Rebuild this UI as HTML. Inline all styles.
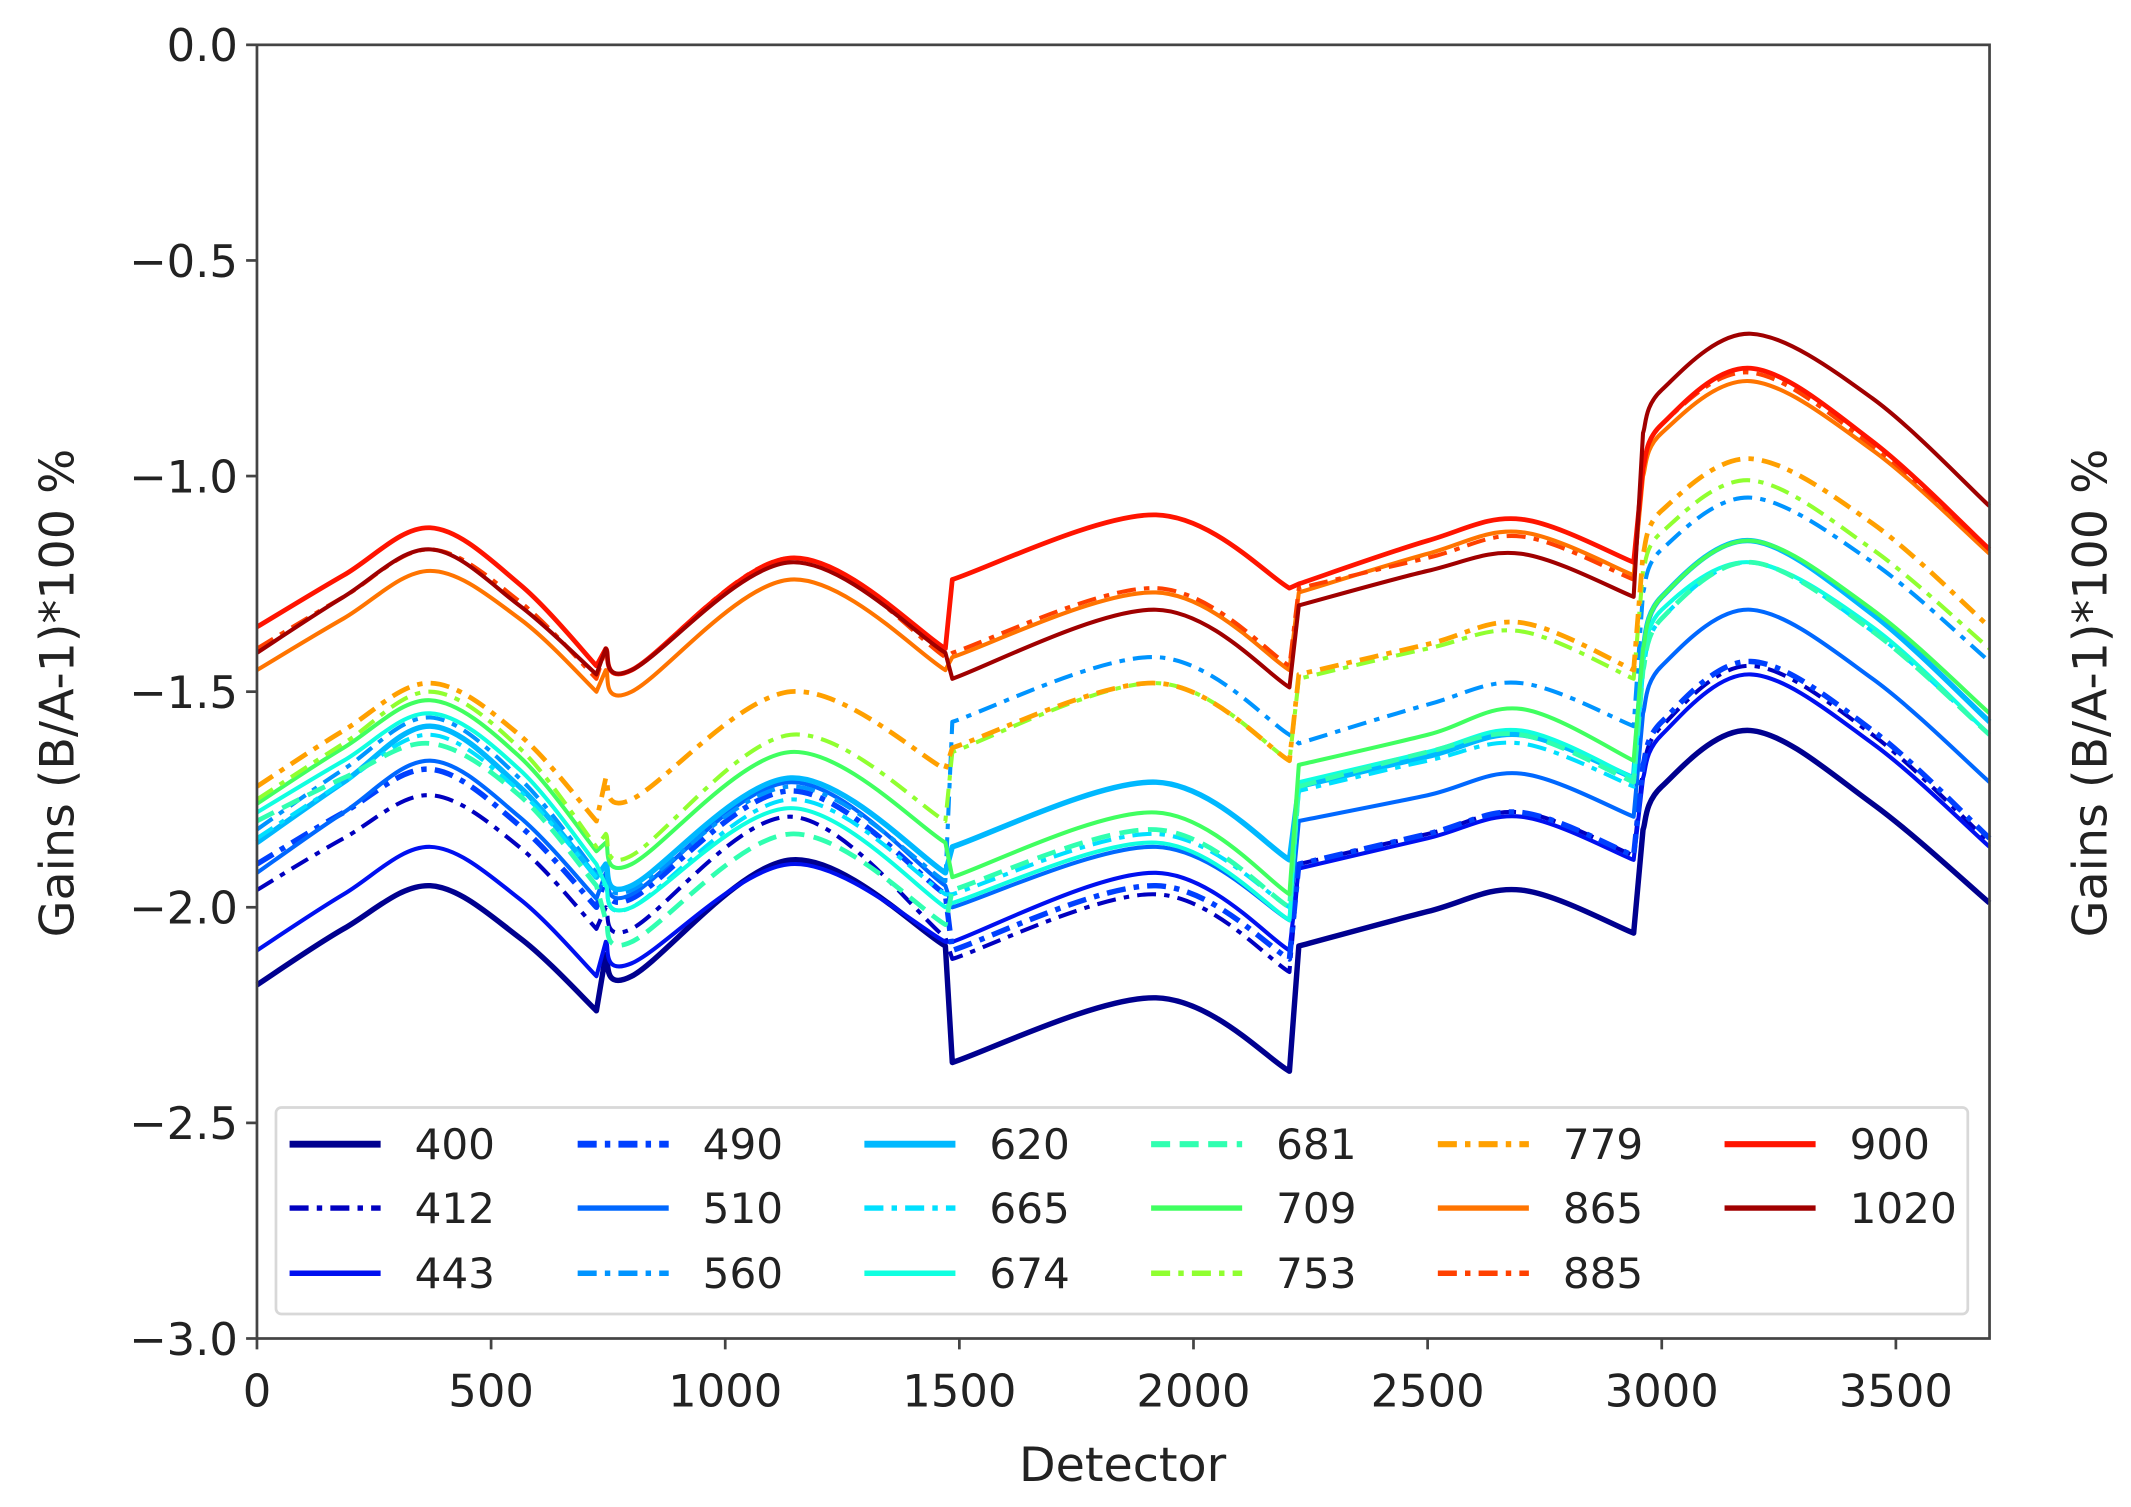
<!DOCTYPE html>
<html><head><meta charset="utf-8"><style>
html,body{margin:0;padding:0;background:#fff;}
svg{display:block;}
text{font-family:"DejaVu Sans","Liberation Sans",sans-serif;fill:#222;}
</style></head><body>
<svg id="chart" width="2131" height="1507" viewBox="0 0 1568 1109" xmlns="http://www.w3.org/2000/svg">
<rect width="1568" height="1109" fill="#fff"/>
<g id="plot"></g>
<g id="axes"></g>
<g id="legend"></g>
</svg>
<script>
const detectorX = [0,185,370,560,725, 745,800,1140,1470, 1485,1920,2205, 2225,2500,2700,2940, 2960,3000,3190,3450,3700];
const segments = [[0,5],[5,9],[9,12],[12,16],[16,21]];
const bandNames = ["400","412","443","490","510","560","620","665","674","681","709","753","779","865","885","900","1020"];
const s400 = [-2.18,-2.05,-1.95,-2.07,-2.24, -2.11,-2.16,-1.89,-2.09, -2.36,-2.21,-2.38, -2.09,-2.01,-1.96,-2.06, -1.82,-1.72,-1.59,-1.76,-1.99];
const s412 = [-1.96,-1.84,-1.74,-1.86,-2.05, -2.00,-2.05,-1.79,-2.07, -2.12,-1.97,-2.15, -1.90,-1.83,-1.78,-1.88, -1.68,-1.58,-1.44,-1.60,-1.85];
const s443 = [-2.10,-1.97,-1.86,-1.98,-2.16, -2.08,-2.13,-1.90,-2.08, -2.08,-1.92,-2.10, -1.91,-1.84,-1.79,-1.89, -1.70,-1.60,-1.46,-1.62,-1.86];
const s490 = [-1.90,-1.78,-1.68,-1.81,-2.00, -1.93,-1.98,-1.73,-1.97, -2.10,-1.95,-2.12, -1.90,-1.83,-1.78,-1.88, -1.67,-1.57,-1.43,-1.59,-1.84];
const s510 = [-1.92,-1.78,-1.66,-1.79,-1.98, -1.92,-1.97,-1.71,-1.95, -2.00,-1.86,-2.03, -1.80,-1.74,-1.69,-1.79, -1.55,-1.44,-1.31,-1.47,-1.71];
const s560 = [-1.82,-1.68,-1.56,-1.70,-1.92, -1.91,-1.96,-1.72,-1.94, -1.57,-1.42,-1.60, -1.62,-1.53,-1.48,-1.58, -1.27,-1.17,-1.05,-1.20,-1.43];
const s620 = [-1.85,-1.71,-1.58,-1.72,-1.93, -1.90,-1.95,-1.70,-1.92, -1.86,-1.71,-1.89, -1.72,-1.65,-1.60,-1.70, -1.40,-1.28,-1.15,-1.32,-1.57];
const s665 = [-1.84,-1.71,-1.60,-1.73,-1.93, -1.95,-2.00,-1.75,-1.97, -1.97,-1.83,-2.00, -1.73,-1.66,-1.62,-1.72, -1.45,-1.33,-1.20,-1.36,-1.60];
const s674 = [-1.78,-1.66,-1.55,-1.68,-1.90, -1.95,-2.00,-1.77,-2.00, -1.99,-1.85,-2.03, -1.71,-1.64,-1.59,-1.70, -1.43,-1.31,-1.20,-1.35,-1.60];
const s681 = [-1.80,-1.70,-1.62,-1.74,-1.95, -2.03,-2.08,-1.83,-2.04, -1.96,-1.82,-2.00, -1.72,-1.64,-1.60,-1.71, -1.45,-1.33,-1.20,-1.36,-1.60];
const s709 = [-1.76,-1.63,-1.52,-1.65,-1.87, -1.85,-1.90,-1.64,-1.85, -1.93,-1.78,-1.97, -1.67,-1.60,-1.54,-1.66, -1.40,-1.28,-1.15,-1.31,-1.55];
const s753 = [-1.75,-1.62,-1.50,-1.63,-1.86, -1.83,-1.88,-1.60,-1.80, -1.64,-1.48,-1.66, -1.47,-1.40,-1.36,-1.47, -1.22,-1.13,-1.01,-1.17,-1.40];
const s779 = [-1.72,-1.59,-1.48,-1.60,-1.80, -1.70,-1.75,-1.50,-1.68, -1.63,-1.48,-1.66, -1.46,-1.39,-1.34,-1.45, -1.18,-1.08,-0.96,-1.11,-1.35];
const s865 = [-1.45,-1.33,-1.22,-1.33,-1.50, -1.45,-1.50,-1.24,-1.45, -1.42,-1.27,-1.45, -1.27,-1.18,-1.13,-1.23, -1.00,-0.90,-0.78,-0.94,-1.18];
const s885 = [-1.40,-1.28,-1.17,-1.29,-1.47, -1.40,-1.45,-1.19,-1.42, -1.41,-1.26,-1.44, -1.26,-1.19,-1.14,-1.24, -0.98,-0.88,-0.76,-0.93,-1.17];
const s900 = [-1.35,-1.23,-1.12,-1.25,-1.44, -1.40,-1.45,-1.19,-1.40, -1.24,-1.09,-1.26, -1.25,-1.15,-1.10,-1.20, -0.98,-0.88,-0.75,-0.92,-1.17];
const s1020 = [-1.41,-1.28,-1.17,-1.30,-1.46, -1.40,-1.45,-1.20,-1.41, -1.47,-1.31,-1.49, -1.30,-1.22,-1.18,-1.28, -0.90,-0.80,-0.67,-0.82,-1.07];
const xTicks = [0,500,1000,1500,2000,2500,3000,3500];
const yTicks = [0.0,-0.5,-1.0,-1.5,-2.0,-2.5,-3.0];
const yTickLabels = ["0.0","\u22120.5","\u22121.0","\u22121.5","\u22122.0","\u22122.5","\u22123.0"];

const seriesValues = [s400,s412,s443,s490,s510,s560,s620,s665,s674,s681,s709,s753,s779,s865,s885,s900,s1020];
const colors = ["#00008f","#0000c0","#0010f0","#0040ff","#0068ff","#0094ff","#00b8ff","#00e0ff","#10ffe0","#30ffb0","#40ff60","#90ff30","#ffa000","#ff7400","#ff4000","#ff1400","#a00000"];
const styles = ["solid","dashdot","solid","dashdot","solid","dashdot","solid","dashdot","solid","dashed","solid","dashdot","dashdot","solid","dashdot","solid","solid"];
const widths = [4,3,3,4,3,3,4,3,3,3.5,3,3,3.5,3,3,3.5,3];
const dashMap = {solid:"", dashed:"14,7", dashdot:"14,6,4,6"};

const X0=189, X1=1464, Y0=33, Y1=985, XMAX=3700;
const sx = v => X0 + v/XMAX*(X1-X0);
const sy = v => Y0 + (-v)/3*(Y1-Y0);
const NS="http://www.w3.org/2000/svg";
function mk(tag, attrs, parent){const e=document.createElementNS(NS,tag);for(const k in attrs)e.setAttribute(k,attrs[k]);parent.appendChild(e);return e;}

function pathFor(vals){
  let d="";
  segments.forEach(([a,b],si)=>{
    const pts=[];for(let i=a;i<b;i++)pts.push([sx(detectorX[i]),sy(vals[i])]);
    d += (si===0?"M":"L")+pts[0][0].toFixed(1)+","+pts[0][1].toFixed(1);
    for(let i=0;i<pts.length-1;i++){
      const p0=pts[Math.max(i-1,0)],p1=pts[i],p2=pts[i+1],p3=pts[Math.min(i+2,pts.length-1)];
      const c1=[p1[0]+(p2[0]-p0[0])/6,p1[1]+(p2[1]-p0[1])/6];
      const c2=[p2[0]-(p3[0]-p1[0])/6,p2[1]-(p3[1]-p1[1])/6];
      d+=" C"+c1[0].toFixed(1)+","+c1[1].toFixed(1)+" "+c2[0].toFixed(1)+","+c2[1].toFixed(1)+" "+p2[0].toFixed(1)+","+p2[1].toFixed(1);
    }
  });
  return d;
}

const plot=document.getElementById('plot');
seriesValues.forEach((vals,i)=>{
  const p=mk('path',{d:pathFor(vals),fill:"none",stroke:colors[i],"stroke-width":widths[i],"stroke-dasharray":dashMap[styles[i]],"stroke-linejoin":"round"},plot);
  
  
});

const axes=document.getElementById('axes');
const frame=mk('rect',{x:X0,y:Y0,width:X1-X0,height:Y1-Y0,fill:"none",stroke:"#444","stroke-width":2},axes);


xTicks.forEach(t=>{
  const x=sx(t);
  mk('line',{x1:x,y1:Y1,x2:x,y2:Y1+8,stroke:"#444","stroke-width":2},axes);
  const tx=mk('text',{x:x,y:Y1+50,"text-anchor":"middle","font-size":33},axes);
  tx.textContent=t;
  
  
});
yTicks.forEach((t,i)=>{
  const y=sy(t);
  mk('line',{x1:X0-8,y1:y,x2:X0,y2:y,stroke:"#444","stroke-width":2},axes);
  const tx=mk('text',{x:X0-14,y:y+12,"text-anchor":"end","font-size":33},axes);
  tx.textContent=yTickLabels[i];
  
  
});
const xl=mk('text',{x:826,y:1090,"text-anchor":"middle","font-size":35},axes);
xl.textContent="Detector";


const yl=mk('text',{x:0,y:0,"text-anchor":"middle","font-size":35,transform:"translate(54,510) rotate(-90)"},axes);
yl.textContent="Gains (B/A-1)*100 %";


const yr=mk('text',{x:0,y:0,"text-anchor":"middle","font-size":35,transform:"translate(1550,510) rotate(-90)"},axes);
yr.textContent="Gains (B/A-1)*100 %";



const leg=document.getElementById('legend');
const lb=mk('rect',{x:203,y:815,width:1245,height:152,rx:4,fill:"#fff",stroke:"#d8d8d8","stroke-width":2},leg);


const colX=[213,425,636,847,1058,1269], rowY=[842,889,937];
bandNames.forEach((n,i)=>{
  const c=Math.floor(i/3), r=i%3;
  const g=mk('g',{},leg);
  
  
  mk('line',{x1:colX[c],y1:rowY[r],x2:colX[c]+67,y2:rowY[r],stroke:colors[i],"stroke-width":widths[i]+1,"stroke-dasharray":dashMap[styles[i]]},g);
  const t=mk('text',{x:colX[c]+92,y:rowY[r]+11,"font-size":31},g);
  t.textContent=n;
});
</script>
</body></html>
